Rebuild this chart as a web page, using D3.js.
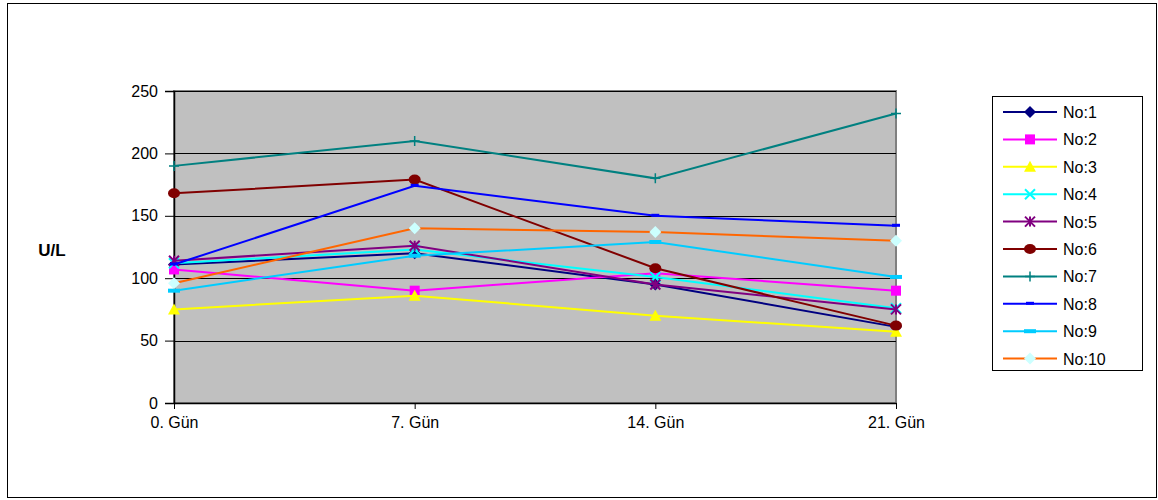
<!DOCTYPE html>
<html>
<head>
<meta charset="utf-8">
<script src="https://cdn.jsdelivr.net/npm/d3@7"></script>
<style>
  html, body { margin: 0; padding: 0; background: #fff; }
  svg { display: block; font-family: Arial, "Liberation Sans", sans-serif; }
</style>
</head>
<body>
<svg id="chart" width="1158" height="500"></svg>
<script>
// Categories (days) and tick labels
const categories = ["0. Gün", "7. Gün", "14. Gün", "21. Gün"];
const yTicks = [0, 50, 100, 150, 200, 250];

// Series values (U/L)
const no1 = [111, 120, 95, 61];
const no2 = [107, 90, 104, 90];
const no3 = [75, 86, 70, 57];
const no4 = [112, 123, 101, 76];
const no5 = [114, 126, 95, 75];
const no6 = [168, 179, 108, 62];
const no7 = [190, 210, 180, 232];
const no8 = [111, 174, 150, 142];
const no9 = [90, 118, 129, 101];
const no10 = [96, 140, 137, 130];

const seriesNames = ["No:1", "No:2", "No:3", "No:4", "No:5", "No:6", "No:7", "No:8", "No:9", "No:10"];
const seriesValues = [no1, no2, no3, no4, no5, no6, no7, no8, no9, no10];
const lineColors = ["#000080", "#FF00FF", "#FFFF00", "#00FFFF", "#800080", "#800000", "#008080", "#0000FF", "#00CCFF", "#FF6600"];
const markerColors = ["#000080", "#FF00FF", "#FFFF00", "#00FFFF", "#800080", "#800000", "#008080", "#0000FF", "#00CCFF", "#CCFFFF"];
const markerTypes = ["diamond", "square", "triangle", "x", "star", "circle", "plus", "dash", "longdash", "diamond"];

const series = seriesNames.map((name, i) => ({
  name, values: seriesValues[i], line: lineColors[i], marker: markerColors[i], type: markerTypes[i]
}));

const svg = d3.select("#chart");

// Outer chart frame
svg.append("rect").attr("x", 7.5).attr("y", 3.5).attr("width", 1149).attr("height", 494)
  .attr("fill", "#fff").attr("stroke", "#000").attr("stroke-width", 1);

const plot = { left: 174, right: 896, top: 91, bottom: 403 };

const x = d3.scalePoint().domain(categories).range([plot.left, plot.right]);
const y = d3.scaleLinear().domain([0, 250]).range([plot.bottom, plot.top]);

// Plot area background
svg.append("rect").attr("x", plot.left).attr("y", plot.top)
  .attr("width", plot.right - plot.left).attr("height", plot.bottom - plot.top)
  .attr("fill", "#C0C0C0").attr("stroke", "#808080").attr("stroke-width", 2);

// Horizontal gridlines
svg.append("g").selectAll("line").data(yTicks.filter(d => d > 0)).join("line")
  .attr("x1", plot.left).attr("x2", plot.right)
  .attr("y1", d => Math.round(y(d)) + 0.5).attr("y2", d => Math.round(y(d)) + 0.5)
  .attr("stroke", "#000").attr("stroke-width", 1);

// Y axis
const yAxis = d3.axisLeft(y).tickValues(yTicks).tickSize(9).tickPadding(7);
const gy = svg.append("g").attr("transform", `translate(${plot.left},0)`).call(yAxis);
gy.select(".domain").attr("stroke", "#000").attr("stroke-width", 1.5);
gy.selectAll(".tick line").attr("stroke", "#000");
gy.selectAll(".tick text").attr("font-size", 16).attr("fill", "#000").attr("font-family", "Arial, 'Liberation Sans', sans-serif");

// X axis
const xAxis = d3.axisBottom(x).tickSize(6).tickPadding(8).tickSizeOuter(0);
const gx = svg.append("g").attr("transform", `translate(0,${plot.bottom})`).call(xAxis);
gx.select(".domain").attr("stroke", "#000").attr("stroke-width", 1.5);
gx.selectAll(".tick line").attr("stroke", "#000");
gx.selectAll(".tick text").attr("font-size", 16).attr("fill", "#000").attr("font-family", "Arial, 'Liberation Sans', sans-serif");

// Y axis title
svg.append("text").attr("x", 52).attr("y", 256).attr("text-anchor", "middle")
  .attr("font-size", 17).attr("font-weight", "bold").text("U/L");

// Marker drawing
function drawMarker(g, type, color, cx, cy) {
  const s = 5;
  switch (type) {
    case "diamond":
      g.append("path").attr("d", `M${cx},${cy - s - 1}L${cx + s + 1},${cy}L${cx},${cy + s + 1}L${cx - s - 1},${cy}Z`).attr("fill", color);
      break;
    case "square":
      g.append("rect").attr("x", cx - s).attr("y", cy - s).attr("width", 2 * s).attr("height", 2 * s).attr("fill", color);
      break;
    case "triangle":
      g.append("path").attr("d", `M${cx},${cy - s - 1}L${cx + s + 1},${cy + s}L${cx - s - 1},${cy + s}Z`).attr("fill", color);
      break;
    case "circle":
      g.append("ellipse").attr("cx", cx).attr("cy", cy).attr("rx", s + 1).attr("ry", s).attr("fill", color);
      break;
    case "x":
      g.append("path").attr("d", `M${cx - s},${cy - s}L${cx + s},${cy + s}M${cx - s},${cy + s}L${cx + s},${cy - s}`)
        .attr("stroke", color).attr("stroke-width", 2).attr("fill", "none");
      break;
    case "star":
      g.append("path").attr("d", `M${cx - s},${cy - s}L${cx + s},${cy + s}M${cx - s},${cy + s}L${cx + s},${cy - s}M${cx},${cy - s}L${cx},${cy + s}`)
        .attr("stroke", color).attr("stroke-width", 2).attr("fill", "none");
      break;
    case "plus":
      g.append("path").attr("d", `M${cx - s},${cy}L${cx + s},${cy}M${cx},${cy - s}L${cx},${cy + s}`)
        .attr("stroke", color).attr("stroke-width", 1.5).attr("fill", "none");
      break;
    case "dash":
      g.append("rect").attr("x", cx - 4).attr("y", cy - 2).attr("width", 8).attr("height", 3).attr("fill", color);
      break;
    case "longdash":
      g.append("rect").attr("x", cx - 6).attr("y", cy - 2).attr("width", 12).attr("height", 4).attr("fill", color);
      break;
  }
}

// Series lines and markers
const line = d3.line().x((d, i) => x(categories[i])).y(d => y(d));
const gSeries = svg.append("g");
series.forEach(s => {
  gSeries.append("path").datum(s.values).attr("d", line)
    .attr("fill", "none").attr("stroke", s.line).attr("stroke-width", 2);
  const gm = gSeries.append("g");
  s.values.forEach((v, i) => drawMarker(gm, s.type, s.marker, x(categories[i]), y(v)));
});

// Legend
const legend = { x: 992, y: 96, w: 150, h: 274, row0: 112, step: 27.4 };
svg.append("rect").attr("x", legend.x + 0.5).attr("y", legend.y + 0.5)
  .attr("width", legend.w).attr("height", legend.h)
  .attr("fill", "#fff").attr("stroke", "#000").attr("stroke-width", 1);
series.forEach((s, i) => {
  const cy = legend.row0 + i * legend.step;
  const g = svg.append("g");
  g.append("line").attr("x1", 1003).attr("x2", 1057).attr("y1", cy).attr("y2", cy)
    .attr("stroke", s.line).attr("stroke-width", 2);
  drawMarker(g, s.type, s.marker, 1030, cy);
  g.append("text").attr("x", 1063).attr("y", cy + 6).attr("font-size", 16).text(s.name);
});
</script>
</body>
</html>
